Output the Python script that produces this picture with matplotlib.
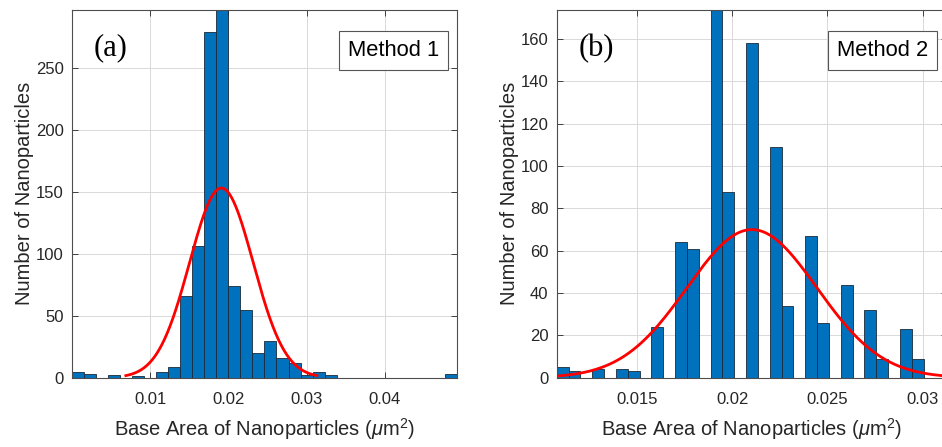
import numpy as np
import matplotlib.pyplot as plt

# panel (a) - Method 1 histogram (32 bins)
counts_1 = [5, 3, 0, 2, 0, 1, 0, 5, 9, 66, 106, 279, 310, 74, 55, 20,
            30, 16, 12, 2, 5, 2, 0, 0, 0, 0, 0, 0, 0, 0, 0, 3]
start_1, width_1 = 0.0, 0.001538
mu_1, sigma_1, peak_1 = 0.0191, 0.00407, 153
xticks_1 = [0.01, 0.02, 0.03, 0.04]
xticklabels_1 = ["0.01", "0.02", "0.03", "0.04"]
yticks_1 = [0, 50, 100, 150, 200, 250]

# panel (b) - Method 2 histogram (31 bins)
counts_2 = [5, 3, 0, 4, 0, 4, 3, 0, 24, 0, 64, 61, 0, 180, 88, 0,
            158, 0, 109, 34, 0, 67, 26, 0, 44, 0, 32, 9, 0, 23, 9]
start_2, width_2 = 0.01077, 0.000622
mu_2, sigma_2, peak_2 = 0.02103, 0.00342, 70
xticks_2 = [0.015, 0.02, 0.025, 0.03]
xticklabels_2 = ["0.015", "0.02", "0.025", "0.03"]
yticks_2 = [0, 20, 40, 60, 80, 100, 120, 140, 160]

bar_color = "#0072BD"
axis_color = "#262626"

plt.rcParams["font.family"] = ["Liberation Sans", "DejaVu Sans"]
plt.rcParams["mathtext.fontset"] = "custom"
plt.rcParams["mathtext.rm"] = "Liberation Sans"
plt.rcParams["mathtext.it"] = "Liberation Sans:italic"

fig = plt.figure(figsize=(9.42, 4.47), dpi=100)
ax1 = fig.add_axes([0.0764, 0.155, 0.4087, 0.8237])
ax2 = fig.add_axes([0.591, 0.155, 0.4145, 0.8237])


def draw_panel(ax, counts, start, width, mu, sigma, peak, ylim_top, xlim,
               xticks, xticklabels, yticks, tag, method):
    counts = np.array(counts)
    edges = start + width * np.arange(len(counts) + 1)
    ax.bar(edges[:-1], counts, width=width, align="edge", color=bar_color,
           edgecolor="#1a2a3a", linewidth=0.6, zorder=2)

    # normal fit over mu +/- 3 sigma
    xf = np.linspace(mu - 3 * sigma, mu + 3 * sigma, 200)
    yf = peak * np.exp(-0.5 * ((xf - mu) / sigma) ** 2)
    ax.plot(xf, yf, color="#FF0000", linewidth=2, zorder=3)

    ax.set_xlim(xlim)
    ax.set_ylim(0, ylim_top)
    ax.set_xticks(xticks)
    ax.set_xticklabels(xticklabels)
    ax.set_yticks(yticks)
    ax.tick_params(direction="in", length=4, width=0.6, colors=axis_color,
                   labelsize=12, top=True, right=True)
    ax.tick_params(axis="x", pad=10)
    ax.tick_params(axis="y", pad=6)
    for s in ax.spines.values():
        s.set_color("#4d4d4d")
        s.set_linewidth(0.8)
    ax.grid(True, color="#d9d9d9", linewidth=0.7, zorder=0)
    ax.set_axisbelow(True)

    ax.set_xlabel(r"Base Area of Nanoparticles ($\mu$m$^2$)", fontsize=14.5,
                  color=axis_color, labelpad=7)
    ax.set_ylabel("Number of Nanoparticles", fontsize=14.5, color=axis_color,
                  labelpad=1)

    ax.text(0.055, 0.895, tag, transform=ax.transAxes, fontsize=22,
            family=["Liberation Serif"], ha="left", va="center", zorder=5)
    ax.text(0.835, 0.889, method, transform=ax.transAxes, fontsize=15.8,
            ha="center", va="center", zorder=5,
            bbox=dict(boxstyle="square,pad=0.4", facecolor="white",
                      edgecolor="#555555", linewidth=0.8))


draw_panel(ax1, counts_1, start_1, width_1, mu_1, sigma_1, peak_1, 297,
           (start_1, start_1 + width_1 * len(counts_1)),
           xticks_1, xticklabels_1, yticks_1, "(a)", "Method 1")
draw_panel(ax2, counts_2, start_2, width_2, mu_2, sigma_2, peak_2, 174,
           (mu_2 - 3 * sigma_2, mu_2 + 3 * sigma_2),
           xticks_2, xticklabels_2, yticks_2, "(b)", "Method 2")

fig.savefig("out.png", dpi=100)
